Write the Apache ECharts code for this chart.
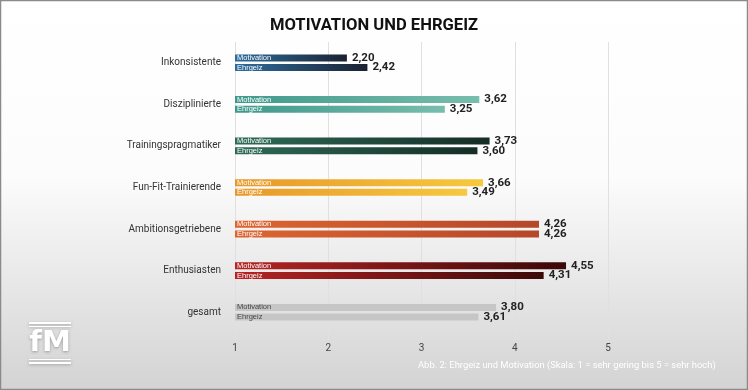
<!DOCTYPE html>
<html>
<head>
<meta charset="utf-8">
<script src="https://cdn.jsdelivr.net/npm/echarts@6/dist/echarts.min.js"></script>
<style>
html,body{margin:0;padding:0;background:#fff;}
#c{width:748px;height:390px;}
</style>
</head>
<body>
<div id="c"></div>
<script>
const categories = ['Inkonsistente','Disziplinierte','Trainingspragmatiker','Fun-Fit-Trainierende','Ambitionsgetriebene','Enthusiasten','gesamt'];
const motivation = [2.20, 3.62, 3.73, 3.66, 4.26, 4.55, 3.80];
const ehrgeiz = [2.42, 3.25, 3.60, 3.49, 4.26, 4.31, 3.61];
const xTicks = [1, 2, 3, 4, 5];

// styles (left colour, right colour, inner text colour)
const palette = [
  ['#2e6c9e', '#1b2231', '#fff'],
  ['#3f998b', '#78bdad', '#fff'],
  ['#2f6b58', '#152d26', '#fff'],
  ['#e8982a', '#f6c93e', '#fff'],
  ['#dd6630', '#b5472a', '#fff'],
  ['#b72424', '#3b0909', '#fff'],
  ['#c6c6c6', '#c6c6c6', '#444']
];

function grad(i) {
  return new echarts.graphic.LinearGradient(0, 0, 1, 0, [
    { offset: 0, color: palette[i][0] },
    { offset: 1, color: palette[i][1] }
  ]);
}
function fmt(v) { return v.toFixed(2).replace('.', ','); }

function mainSeries(name, vals, stack) {
  return {
    name: name,
    type: 'bar',
    stack: stack,
    barWidth: 7,
    barGap: '38%',
    data: vals.map((v, i) => ({
      value: v,
      itemStyle: { color: grad(i) },
      label: { color: palette[i][2] }
    })),
    label: {
      show: true,
      position: 'insideLeft',
      distance: 2,
      formatter: name,
      fontSize: 7.5,
      fontFamily: 'Liberation Sans',
      color: '#fff'
    },
    silent: true
  };
}
function labelSeries(vals, stack) {
  return {
    type: 'bar',
    stack: stack,
    barWidth: 7,
    barGap: '38%',
    data: vals.map(() => 0),
    itemStyle: { color: 'transparent' },
    label: {
      show: true,
      position: 'right',
      distance: 5,
      formatter: p => fmt(vals[p.dataIndex]),
      fontSize: 11.5,
      fontWeight: 'bold',
      fontFamily: 'Roboto',
      color: '#222'
    },
    silent: true
  };
}

const lineStyle = { fill: '#fff', shadowColor: 'rgba(0,0,0,0.25)', shadowBlur: 3, shadowOffsetY: 1 };

const chart = echarts.init(document.getElementById('c'), null, { renderer: 'canvas' });
chart.setOption({
  animation: false,
  backgroundColor: 'transparent',
  graphic: [
    {
      type: 'rect', z: -10, silent: true,
      shape: { x: 0.5, y: 0.5, width: 747, height: 389 },
      style: {
        fill: new echarts.graphic.LinearGradient(0, 0, 0, 1, [
          { offset: 0, color: '#ffffff' },
          { offset: 0.45, color: '#fcfcfc' },
          { offset: 1, color: '#d3d3d3' }
        ]),
        stroke: '#8a8a8a', lineWidth: 1.5
      }
    },
    {
      type: 'group', left: 29, top: 322, silent: true,
      children: [
        { type: 'rect', shape: { x: 0, y: 0, width: 42, height: 2 }, style: lineStyle },
        { type: 'rect', shape: { x: 0, y: 4, width: 42, height: 1 }, style: lineStyle },
        { type: 'text', x: 21, y: 7, style: { text: 'fM', fontSize: 29, fontWeight: 'bold', fontFamily: 'DejaVu Sans', fill: '#fff', align: 'center', textShadowColor: 'rgba(0,0,0,0.3)', textShadowBlur: 3, textShadowOffsetY: 1 } },
        { type: 'rect', shape: { x: 0, y: 37, width: 42, height: 1 }, style: lineStyle },
        { type: 'rect', shape: { x: 0, y: 40, width: 42, height: 2 }, style: lineStyle }
      ]
    },
    {
      type: 'text', left: 418, top: 361, silent: true,
      style: { text: 'Abb. 2: Ehrgeiz und Motivation (Skala: 1 = sehr gering bis 5 = sehr hoch)', fontSize: 9.4, fontFamily: 'Roboto', fill: '#fff' }
    }
  ],
  title: {
    text: 'MOTIVATION UND EHRGEIZ',
    left: 'center',
    top: 12,
    textStyle: { fontSize: 16.6, fontWeight: 'bold', fontFamily: 'Roboto', color: '#111' }
  },
  grid: { left: 235, right: 140, top: 42, bottom: 57 },
  xAxis: {
    type: 'value',
    min: 1, max: 5, interval: 1,
    axisLine: { show: false },
    axisTick: { show: true, length: 7, lineStyle: { color: '#e0e0e0' } },
    splitLine: { show: true, lineStyle: { color: '#e0e0e0', width: 1 } },
    axisLabel: {
      margin: 10, fontSize: 10, fontFamily: 'Roboto', color: '#444',
      formatter: v => xTicks.includes(v) ? String(v) : ''
    }
  },
  yAxis: {
    type: 'category',
    data: categories,
    inverse: true,
    axisLine: { show: false },
    axisTick: { show: false },
    axisLabel: { margin: 14, fontSize: 10, fontFamily: 'Roboto', color: '#333' }
  },
  series: [
    mainSeries('Motivation', motivation, 'm'),
    labelSeries(motivation, 'm'),
    mainSeries('Ehrgeiz', ehrgeiz, 'e'),
    labelSeries(ehrgeiz, 'e')
  ]
});
</script>
</body>
</html>
